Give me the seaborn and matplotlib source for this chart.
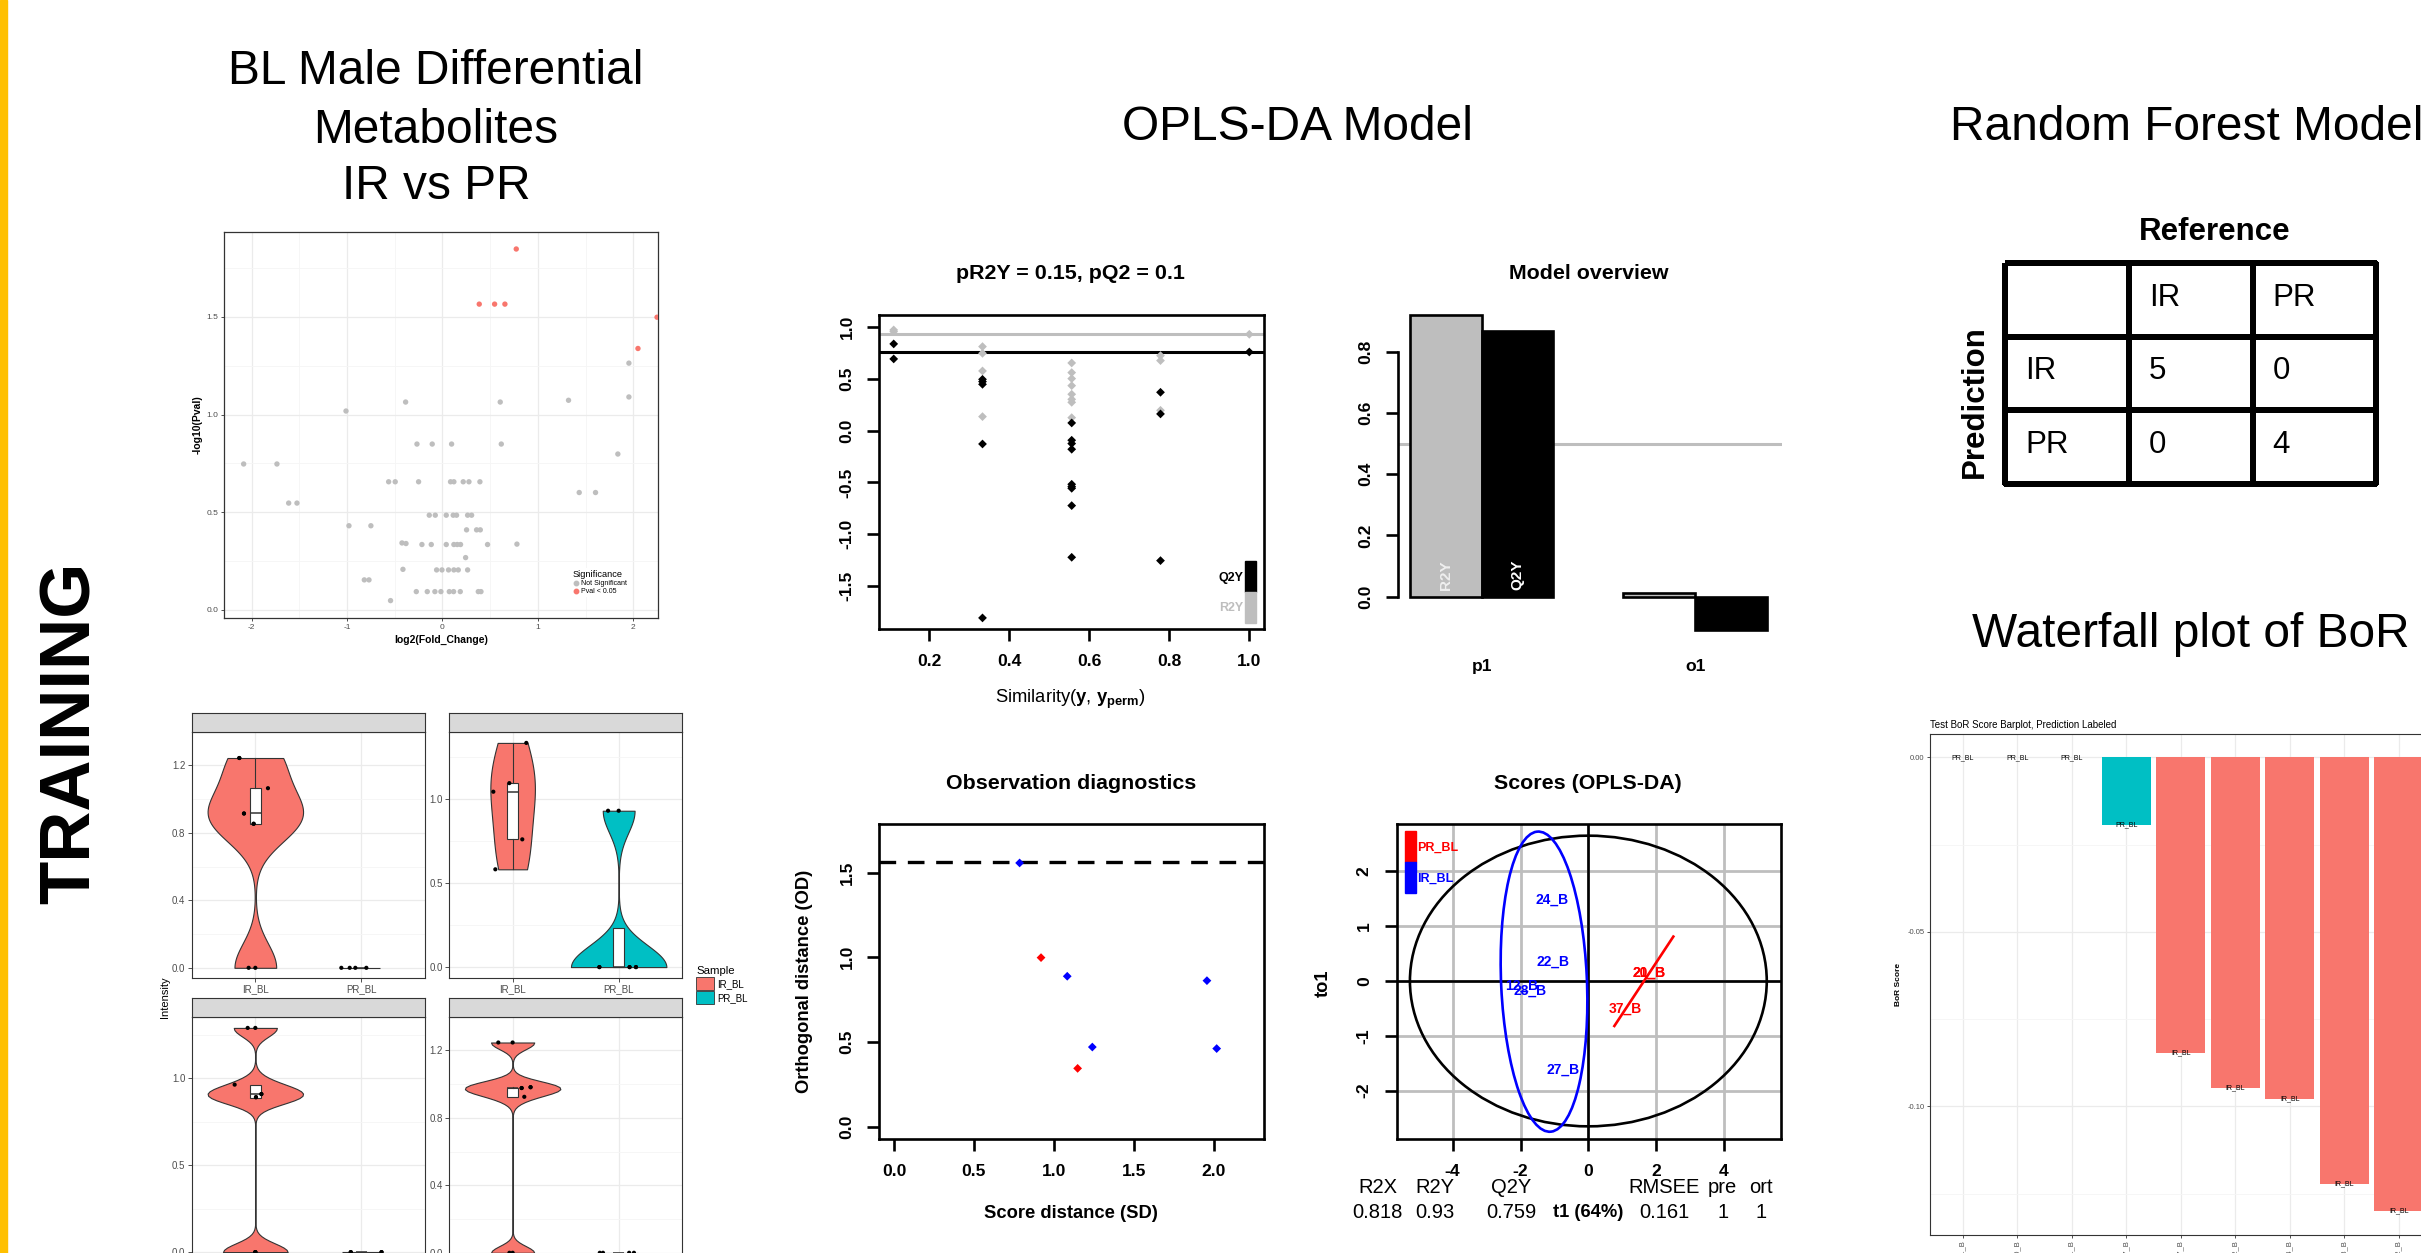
import numpy as np
import pandas as pd
import matplotlib
matplotlib.use("Agg")
import matplotlib.pyplot as plt
import seaborn as sns
from matplotlib.patches import Ellipse, Rectangle, Patch
from matplotlib.lines import Line2D
from matplotlib.colors import ListedColormap

# ======================= DATA =======================
# --- volcano plot ---
sig_fc = [0.774, 0.386, 0.547, 0.655, 2.25, 2.05]
sig_p = [1.847, 1.565, 1.565, 1.565, 1.498, 1.338]
ns_fc = [1.955, 1.955, 1.322, 0.606, -0.386, -1.011,
         -0.267, -0.107, 0.096, 0.617, 1.839,
         -2.084, -1.735,
         -0.564, -0.495, -0.250, 0.085, 0.120, 0.218, 0.278, 0.393,
         1.434, 1.605,
         -1.612, -1.525,
         -0.138, -0.075, 0.040, 0.113, 0.148, 0.264, 0.306,
         -0.980, -0.750,
         0.253, 0.358, 0.397,
         -0.424, -0.382, -0.215, -0.117, 0.040, 0.120, 0.155, 0.190, 0.473, 0.781,
         0.243,
         -0.414, -0.061, -0.005, 0.064, 0.120, 0.166, 0.264,
         -0.819, -0.770,
         -0.274, -0.159, -0.079, -0.016, 0.072, 0.117, 0.187, 0.376, 0.404,
         -0.544]
ns_p = [1.263, 1.090, 1.073, 1.064, 1.064, 1.018,
        0.849, 0.849, 0.849, 0.849, 0.798,
        0.747, 0.747,
        0.656, 0.656, 0.656, 0.656, 0.656, 0.656, 0.656, 0.656,
        0.601, 0.601,
        0.547, 0.547,
        0.485, 0.485, 0.485, 0.485, 0.485, 0.485, 0.485,
        0.431, 0.431,
        0.410, 0.410, 0.410,
        0.343, 0.340, 0.335, 0.335, 0.335, 0.335, 0.335, 0.335, 0.335, 0.337,
        0.268,
        0.208, 0.205, 0.205, 0.205, 0.205, 0.205, 0.205,
        0.154, 0.154,
        0.094, 0.094, 0.094, 0.094, 0.094, 0.094, 0.094, 0.094, 0.094,
        0.048]

# --- violin facets (values incl. overplotted duplicates, jitter offsets) ---
v_order = ["IR_BL", "PR_BL"]
tl_ir_vals = [1.244, 1.244, 1.065, 0.915, 0.915, 0.854, 0.854, 0.0, 0.0]
tl_ir_off = [-0.151, -0.151, 0.119, -0.107, -0.107, -0.016, -0.016, -0.063, 0.0]
tl_ir_box = [0.854, 0.854, 0.915, 1.065, 1.244]   # whislo, q1, med, q3, whishi
tl_pr_vals = [0.0, 0.0, 0.0, 0.0]
tl_pr_off = [-0.189, -0.110, -0.057, 0.047]
tl_pr_box = [0.0, 0.0, 0.0, 0.0, 0.0]

tr_ir_vals = [1.332, 1.093, 1.042, 0.759, 0.581]
tr_ir_off = [0.129, -0.031, -0.182, 0.091, -0.163]
tr_ir_box = [0.581, 0.759, 1.040, 1.093, 1.332]
tr_pr_vals = [0.929, 0.929, 0.0, 0.0, 0.0, 0.0, 0.0, 0.0]
tr_pr_off = [-0.100, 0.0, -0.182, 0.103, 0.163, -0.182, 0.103, 0.163]
tr_pr_box = [0.0, 0.0, 0.0, 0.231, 0.231]

bl_ir_vals = [1.288, 1.288, 0.962, 0.908, 0.908, 0.890, 0.890, 0.0, 0.0, 0.0]
bl_ir_off = [-0.072, 0.0, -0.195, 0.057, 0.057, 0.006, 0.006, 0.0, 0.0, 0.0]
bl_ir_box = [0.890, 0.888, 0.908, 0.958, 0.962]
bl_pr_vals = [0.0, 0.0, 0.0, 0.0]
bl_pr_off = [-0.10, 0.19, -0.10, 0.19]
bl_pr_box = [0.0, 0.0, 0.0, 0.0, 0.0]

br_ir_vals = [1.247, 1.247, 0.982, 0.982, 0.977, 0.977, 0.925, 0.0, 0.0]
br_ir_off = [-0.135, 0.0, 0.169, 0.169, 0.085, 0.085, 0.110, -0.030, 0.0]
br_ir_box = [0.925, 0.925, 0.977, 0.980, 0.982]
br_pr_vals = [0.0, 0.0, 0.0, 0.0]
br_pr_off = [-0.178, -0.148, 0.099, 0.144]
br_pr_box = [0.0, 0.0, 0.0, 0.0, 0.0]

# --- OPLS-DA permutation ---
perm_r2y_sim = [0.111, 0.111, 0.333, 0.333, 0.333, 0.333,
                0.556, 0.556, 0.556, 0.556, 0.556, 0.556, 0.556, 0.556,
                0.778, 0.778, 0.778, 1.0]
perm_r2y = [0.972, 0.956, 0.811, 0.746, 0.576, 0.135,
            0.653, 0.560, 0.502, 0.434, 0.351, 0.302, 0.273, 0.125,
            0.724, 0.676, 0.196, 0.930]
perm_q2y_sim = [0.111, 0.111, 0.333, 0.333, 0.333, 0.333, 0.333,
                0.556, 0.556, 0.556, 0.556, 0.556, 0.556, 0.556, 0.556, 0.556,
                0.778, 0.778, 0.778, 1.0]
perm_q2y = [0.837, 0.692, 0.495, 0.473, 0.447, -0.129, -1.808,
            0.074, -0.093, -0.125, -0.180, -0.518, -0.541, -0.557, -0.724, -1.223,
            0.370, 0.161, -1.255, 0.759]
model_r2y = 0.93
model_q2y = 0.759

# --- model overview ---
ov_comp = ["p1", "o1"]
ov_r2y = [0.919, 0.011]
ov_q2y = [0.869, -0.110]

# --- observation diagnostics ---
obs_sd = [0.786, 1.084, 1.958, 1.241, 2.019, 0.920, 1.149]
obs_od = [1.557, 0.888, 0.862, 0.470, 0.461, 0.998, 0.344]
obs_grp = ["IR_BL"] * 5 + ["PR_BL"] * 2
od_cutoff = 1.565

# --- scores ---
ir_names = ["24_B", "22_B", "12_B", "28_B", "27_B"]
ir_t1 = [-1.06, -1.05, -1.97, -1.72, -0.737]
ir_to1 = [1.477, 0.347, -0.09, -0.176, -1.611]
pr_names = ["20_B", "21_B", "37_B"]
pr_t1 = [1.79, 1.79, 1.10]
pr_to1 = [0.152, 0.152, -0.505]
hot_radius = [5.26, 2.65]
ir_ell = dict(center=(-1.307, -0.012), a=2.743, b=1.264, angle=94.4)
pr_seg_t1 = [0.767, 2.506]
pr_seg_to1 = [-0.82, 0.81]
sum_names = ["R2X", "R2Y", "Q2Y", "RMSEE", "pre", "ort"]
sum_vals = ["0.818", "0.93", "0.759", "0.161", "1", "1"]

# --- random forest confusion ---
cm_labels = ["IR", "PR"]
cm_counts = [[5, 0], [0, 4]]

# --- waterfall ---
bor_samples = ["21_B", "20_B", "31_B", "37_B", "27_B", "22_B", "24_B", "28_B", "12_B"]
bor_scores = [0.0, 0.0, 0.0, -0.0194, -0.0846, -0.0947, -0.0978, -0.1222, -0.1300]
bor_pred = ["PR_BL", "PR_BL", "PR_BL", "PR_BL", "IR_BL", "IR_BL", "IR_BL", "IR_BL", "IR_BL"]

# ======================= FIGURE =======================
plt.rcParams["font.family"] = ["Liberation Sans", "DejaVu Sans"]
plt.rcParams["mathtext.fontset"] = "custom"
plt.rcParams["mathtext.rm"] = "Liberation Sans"
plt.rcParams["mathtext.bf"] = "Liberation Sans:bold"
plt.rcParams["mathtext.it"] = "Liberation Sans:italic"

W, H = 2421, 1253
fig = plt.figure(figsize=(W / 100, H / 100), dpi=100)
fig.patch.set_facecolor("white")


def pax(x0, y0, x1, y1):
    return fig.add_axes([x0 / W, 1 - y1 / H, (x1 - x0) / W, (y1 - y0) / H])


def ftext(x, y, s, **kw):
    return fig.text(x / W, 1 - y / H, s, **kw)


# yellow side bar
fig.patches.append(Rectangle((0, 0), 7 / W, 1, transform=fig.transFigure,
                             color="#FFC000", zorder=0))

# big titles
ftext(436, 84, "BL Male Differential", ha="center", va="baseline", fontsize=34.5)
ftext(436, 142.7, "Metabolites", ha="center", va="baseline", fontsize=34.5)
ftext(436, 199.3, "IR vs PR", ha="center", va="baseline", fontsize=34.5)
ftext(1297, 140, "OPLS-DA Model", ha="center", va="baseline", fontsize=34.5)
ftext(1950, 140, "Random Forest Model", ha="left", va="baseline", fontsize=34.5)
ftext(1972, 647, "Waterfall plot of BoR", ha="left", va="baseline", fontsize=34.5)
ftext(72, 733, "TRAINING", rotation=90, ha="center", va="center",
      fontsize=51, fontweight="bold")

GG_TXT = "#4D4D4D"
GG_LINE = "#333333"

# ---------------- volcano ----------------
axv = pax(224, 232, 658, 618)
vdf = pd.DataFrame({"fc": ns_fc + sig_fc, "p": ns_p + sig_p,
                    "Significance": ["Not Significant"] * len(ns_fc) + ["Pval < 0.05"] * len(sig_fc)})
vpal = {"Not Significant": "#BEBEBE", "Pval < 0.05": "#F8766D"}
sns.scatterplot(data=vdf, x="fc", y="p", hue="Significance", palette=vpal, s=15,
                edgecolor="none", legend=False, ax=axv, zorder=3)
axv.set_xlim(-2.29, 2.26)
axv.set_ylim(-0.041, 1.934)
axv.set_xticks([-2, -1, 0, 1, 2], labels=["-2", "-1", "0", "1", "2"])
axv.set_yticks([0, 0.5, 1.0, 1.5], labels=["0.0", "0.5", "1.0", "1.5"])
axv.set_xticks([-1.5, -0.5, 0.5, 1.5], minor=True)
axv.set_yticks([0.25, 0.75, 1.25, 1.75], minor=True)
axv.set_axisbelow(True)
axv.grid(which="major", color="#EBEBEB", lw=0.9)
axv.grid(which="minor", color="#F5F5F5", lw=0.6)
axv.tick_params(which="major", labelsize=6, labelcolor=GG_TXT, color=GG_LINE,
                length=2.5, width=0.6, pad=1.5)
axv.tick_params(which="minor", length=0)
for s in axv.spines.values():
    s.set_color(GG_LINE)
    s.set_linewidth(0.9)
axv.set_xlabel("log2(Fold_Change)", fontsize=7.5, fontweight="bold", labelpad=3)
axv.set_ylabel("-log10(Pval)", fontsize=7.5, fontweight="bold", labelpad=3)
vh = [Line2D([], [], marker="o", ls="", color=vpal[k], markersize=3.2) for k in vpal]
leg = axv.legend(vh, list(vpal), title="Significance", loc="lower left",
                 bbox_to_anchor=(0.79, 0.045), fontsize=5, title_fontsize=6.7,
                 frameon=True, facecolor="white", edgecolor="none", framealpha=1,
                 handletextpad=0.2, labelspacing=0.15, borderpad=0.3, handlelength=1.0)
leg._legend_box.align = "left"

# ---------------- violins ----------------
v_pal = {"IR_BL": "#F8766D", "PR_BL": "#00BFC4"}


def violin_facet(rect, strip_top, groups, yt, ymin_ymax):
    x0, y0, x1, y1 = rect
    ax = pax(x0, y0, x1, y1)
    sax = pax(x0, strip_top, x1, y0)
    sax.set_facecolor("#D9D9D9")
    sax.set_xticks([])
    sax.set_yticks([])
    for s in sax.spines.values():
        s.set_color(GG_LINE)
        s.set_linewidth(0.8)
    for pos, (name, vals, offs, h, w, box) in enumerate(groups):
        vals = np.asarray(vals, float)
        if np.ptp(vals) == 0:
            ax.hlines(vals[0], pos - w / 2, pos + w / 2, color=GG_LINE, lw=0.8, zorder=2)
        else:
            df = pd.DataFrame({"Sample": [name] * len(vals), "Intensity": vals})
            sns.violinplot(data=df, x="Sample", y="Intensity", order=v_order,
                           color=v_pal[name], saturation=1, inner=None, cut=0,
                           bw_method=h / np.std(vals, ddof=1), density_norm="width",
                           width=w, linewidth=0.8, linecolor=GG_LINE, ax=ax)
        ax.bxp([dict(whislo=box[0], q1=box[1], med=box[2], q3=box[3], whishi=box[4])],
               positions=[pos], widths=0.1, showfliers=False, showcaps=False,
               patch_artist=True,
               boxprops=dict(facecolor="white", edgecolor=GG_LINE, linewidth=0.8),
               medianprops=dict(color=GG_LINE, linewidth=1.1),
               whiskerprops=dict(color=GG_LINE, linewidth=0.8),
               manage_ticks=False, zorder=3)
        ax.scatter(pos + np.asarray(offs), vals, color="black", s=9, edgecolor="none", zorder=4)
    ax.set_xlim(-0.6, 1.6)
    ax.set_ylim(*ymin_ymax)
    ax.set_xticks([0, 1], labels=v_order)
    ax.set_yticks(yt, labels=[f"{t:.1f}" for t in yt])
    mids = [(a + b) / 2 for a, b in zip(yt[:-1], yt[1:])] + [yt[-1] + (yt[1] - yt[0]) / 2]
    ax.set_yticks(mids, minor=True)
    ax.set_xlabel("")
    ax.set_ylabel("")
    ax.set_axisbelow(True)
    ax.grid(which="major", color="#EBEBEB", lw=0.9)
    ax.yaxis.grid(True, which="minor", color="#F5F5F5", lw=0.6)
    ax.tick_params(which="major", labelsize=7, labelcolor=GG_TXT, color=GG_LINE,
                   length=3, width=0.6, pad=1.5)
    ax.tick_params(which="minor", length=0)
    for s in ax.spines.values():
        s.set_color(GG_LINE)
        s.set_linewidth(0.8)
    return ax


def lims(*arrs):
    m = max(max(a) for a in arrs)
    return (-0.05 * m, 1.05 * m)


violin_facet((191.7, 731.7, 425, 978.3), 713.3,
             [("IR_BL", tl_ir_vals, tl_ir_off, 0.145, 0.9, tl_ir_box),
              ("PR_BL", tl_pr_vals, tl_pr_off, None, 0.36, tl_pr_box)],
             [0, 0.4, 0.8, 1.2], lims(tl_ir_vals, tl_pr_vals))
violin_facet((449, 731.7, 682.3, 978.3), 713.3,
             [("IR_BL", tr_ir_vals, tr_ir_off, 0.2, 0.42, tr_ir_box),
              ("PR_BL", tr_pr_vals, tr_pr_off, 0.13, 0.9, tr_pr_box)],
             [0, 0.5, 1.0], lims(tr_ir_vals, tr_pr_vals))
violin_facet((191.7, 1016.7, 425, 1263.3), 998.3,
             [("IR_BL", bl_ir_vals, bl_ir_off, 0.05, 0.9, bl_ir_box),
              ("PR_BL", bl_pr_vals, bl_pr_off, None, 0.36, bl_pr_box)],
             [0, 0.5, 1.0], lims(bl_ir_vals, bl_pr_vals))
violin_facet((449, 1016.7, 682.3, 1263.3), 998.3,
             [("IR_BL", br_ir_vals, br_ir_off, 0.04, 0.9, br_ir_box),
              ("PR_BL", br_pr_vals, br_pr_off, None, 0.36, br_pr_box)],
             [0, 0.4, 0.8, 1.2], lims(br_ir_vals, br_pr_vals))
ftext(165, 996.7, "Intensity", rotation=90, ha="center", va="center", fontsize=8)
sleg = fig.legend(handles=[Patch(facecolor=v_pal[k], edgecolor=GG_LINE, lw=0.6) for k in v_order],
                  labels=v_order, title="Sample", loc="upper left",
                  bbox_to_anchor=(696 / W, 1 - 966 / H), frameon=False, fontsize=7,
                  title_fontsize=8.2, handlelength=1.8, handleheight=1.7,
                  handletextpad=0.4, labelspacing=0.1, borderaxespad=0, borderpad=0)
sleg._legend_box.align = "left"


# ---------------- R-style helpers ----------------
def rstyle(ax, xt, xl, yt, yl, box=True):
    ax.set_xticks(xt, labels=xl, fontsize=12.6, fontweight="bold")
    ax.set_yticks(yt, labels=yl, fontsize=12.6, fontweight="bold", rotation=90, va="center")
    ax.tick_params(direction="out", length=8.4, width=1.9, pad=9.5, color="black")
    for s in ax.spines.values():
        s.set_linewidth(1.9)
        s.set_color("black")
        s.set_visible(box)
    ax.set_xlabel("")
    ax.set_ylabel("")
    ax.set_facecolor("none")


RT = dict(ha="center", va="center", fontsize=15.4, fontweight="bold")
RL = dict(ha="center", va="center", fontsize=13.2, fontweight="bold")

# ---------------- permutation plot ----------------
axp = pax(879.3, 315, 1264.3, 629.3)
pdf = pd.DataFrame({"sim": perm_r2y_sim + perm_q2y_sim, "val": perm_r2y + perm_q2y,
                    "metric": ["R2Y"] * len(perm_r2y) + ["Q2Y"] * len(perm_q2y)})
axp.axhline(model_r2y, color="#BEBEBE", lw=2.2, zorder=2)
axp.axhline(model_q2y, color="black", lw=2.2, zorder=2)
sns.scatterplot(data=pdf, x="sim", y="val", hue="metric",
                palette={"R2Y": "#BEBEBE", "Q2Y": "black"}, marker="D", s=20,
                edgecolor="none", legend=False, ax=axp, zorder=3)
axp.set_xlim(0.075, 1.0375)
axp.set_ylim(-1.918, 1.116)
rstyle(axp, [0.2, 0.4, 0.6, 0.8, 1.0], ["0.2", "0.4", "0.6", "0.8", "1.0"],
       [-1.5, -1.0, -0.5, 0.0, 0.5, 1.0], ["-1.5", "-1.0", "-0.5", "0.0", "0.5", "1.0"])
axp.add_patch(Rectangle((0.949, 0.12), 0.029, 0.0975, transform=axp.transAxes, color="black", zorder=4))
axp.add_patch(Rectangle((0.949, 0.0214), 0.029, 0.0986, transform=axp.transAxes, color="#BEBEBE", zorder=4))
axp.text(0.945, 0.1645, "Q2Y", transform=axp.transAxes, ha="right", va="center",
         fontsize=9, fontweight="bold", color="black")
axp.text(0.945, 0.067, "R2Y", transform=axp.transAxes, ha="right", va="center",
         fontsize=9, fontweight="bold", color="#BEBEBE")
ftext(1070, 273.3, "pR2Y = 0.15, pQ2 = 0.1", **RT)
ftext(1070, 699, r"Similarity($\mathbf{y}$, $\mathbf{y}_{\mathbf{perm}}$)",
      ha="center", va="center", fontsize=13.2)

# ---------------- model overview ----------------
axm = pax(1397.7, 302.7, 1781.7, 642.7)
mdf = pd.DataFrame({"comp": ov_comp + ov_comp, "metric": ["R2Y"] * 2 + ["Q2Y"] * 2,
                    "val": ov_r2y + ov_q2y})
axm.axhline(0.5, color="#BEBEBE", lw=2.2, zorder=1)
bar_w = 0.672
sns.barplot(data=mdf, x="comp", y="val", hue="metric", order=ov_comp,
            hue_order=["R2Y", "Q2Y"], palette={"R2Y": "#BEBEBE", "Q2Y": "black"},
            saturation=1, width=bar_w, edgecolor="black", linewidth=1.9,
            errorbar=None, legend=False, ax=axm, zorder=3)
axm.set_xlim(-0.394, 1.406)
axm.set_ylim(-0.15, 0.96)
rstyle(axm, [0, 1], ov_comp, [0, 0.2, 0.4, 0.6, 0.8], ["0.0", "0.2", "0.4", "0.6", "0.8"], box=False)
axm.spines["left"].set_visible(True)
axm.spines["left"].set_bounds(0, 0.8)
axm.tick_params(axis="x", length=0, pad=12)
axm.text(-bar_w / 4, 0.022, "R2Y", rotation=90, ha="center", va="bottom",
         color="#EFEFEF", fontsize=11, fontweight="bold", zorder=5)
axm.text(bar_w / 4, 0.022, "Q2Y", rotation=90, ha="center", va="bottom",
         color="white", fontsize=11, fontweight="bold", zorder=5)
ftext(1588.3, 273.3, "Model overview", **RT)

# ---------------- observation diagnostics ----------------
axo = pax(879.3, 824, 1264, 1139)
odf = pd.DataFrame({"sd": obs_sd, "od": obs_od, "grp": obs_grp})
sns.scatterplot(data=odf, x="sd", y="od", hue="grp", palette={"IR_BL": "blue", "PR_BL": "red"},
                marker="D", s=20, edgecolor="none", legend=False, ax=axo, zorder=3)
axo.axhline(od_cutoff, color="black", lw=2.4, ls=(0, (5, 3.5)), zorder=2)
axo.set_xlim(-0.0918, 2.315)
axo.set_ylim(-0.073, 1.787)
rstyle(axo, [0, 0.5, 1.0, 1.5, 2.0], ["0.0", "0.5", "1.0", "1.5", "2.0"],
       [0, 0.5, 1.0, 1.5], ["0.0", "0.5", "1.0", "1.5"])
ftext(1071, 783.3, "Observation diagnostics", **RT)
ftext(1071, 1213.3, "Score distance (SD)", **RL)
ftext(805, 981.7, "Orthogonal distance (OD)", rotation=90, **RL)

# ---------------- scores ----------------
axs = pax(1396.7, 824, 1781, 1139)
axs.set_xlim(-5.65, 5.68)
axs.set_ylim(-2.881, 2.863)
axs.set_axisbelow(True)
axs.grid(True, color="#BEBEBE", lw=2)
axs.axhline(0, color="black", lw=1.9, zorder=2)
axs.axvline(0, color="black", lw=1.9, zorder=2)
axs.add_patch(Ellipse((0, 0), 2 * hot_radius[0], 2 * hot_radius[1], fill=False,
                      ec="black", lw=1.9, zorder=3))
axs.add_patch(Ellipse(ir_ell["center"], 2 * ir_ell["a"], 2 * ir_ell["b"], angle=ir_ell["angle"],
                      fill=False, ec="blue", lw=1.9, zorder=3))
sns.lineplot(x=pr_seg_t1, y=pr_seg_to1, color="red", lw=1.9, ax=axs, zorder=3)
for n, x, y in zip(ir_names, ir_t1, ir_to1):
    axs.text(x, y, n, color="blue", ha="center", va="center", fontsize=10, fontweight="bold", zorder=4)
for n, x, y in zip(pr_names, pr_t1, pr_to1):
    axs.text(x, y, n, color="red", ha="center", va="center", fontsize=10, fontweight="bold", zorder=4)
rstyle(axs, [-4, -2, 0, 2, 4], ["-4", "-2", "0", "2", "4"],
       [-2, -1, 0, 1, 2], ["-2", "-1", "0", "1", "2"])
axs.add_patch(Rectangle((0.0216, 0.880), 0.0278, 0.098, transform=axs.transAxes, color="red", zorder=5))
axs.add_patch(Rectangle((0.0216, 0.780), 0.0278, 0.100, transform=axs.transAxes, color="blue", zorder=5))
axs.text(0.052, 0.925, "PR_BL", transform=axs.transAxes, color="red", fontsize=9,
         fontweight="bold", ha="left", va="center", zorder=5)
axs.text(0.052, 0.825, "IR_BL", transform=axs.transAxes, color="blue", fontsize=9,
         fontweight="bold", ha="left", va="center", zorder=5)
ftext(1588.3, 783.3, "Scores (OPLS-DA)", **RT)
ftext(1323.3, 983.3, "to1", rotation=90, **RL)
name_x = [1378.3, 1435, 1510.7, 1664.3, 1722.7, 1761]
val_x = [1377.3, 1435, 1511.7, 1664.3, 1722.7, 1761]
for nx, vx, n, v in zip(name_x, val_x, sum_names, sum_vals):
    ftext(nx, 1187.7, n, ha="center", va="center", fontsize=14.5)
    ftext(vx, 1212.7, v, ha="center", va="center", fontsize=14.5)
ftext(1587.7, 1212.7, "t1 (64%)", **RL)

# ---------------- confusion table ----------------
axc = pax(2005.3, 263, 2376.2, 484)
sns.heatmap(np.zeros((3, 3)), cmap=ListedColormap(["white"]), cbar=False, linewidths=3,
            linecolor="black", ax=axc, xticklabels=False, yticklabels=False)
axc.collections[0].set_clip_on(False)
TT = dict(ha="left", va="center", fontsize=22.5)
for j, lab in enumerate(cm_labels):
    axc.text(j + 1 + 0.162, 0.47, lab, **TT)
    axc.text(0.162, j + 1 + 0.47, lab, **TT)
for i in range(2):
    for j in range(2):
        axc.text(j + 1 + 0.162, i + 1 + 0.47, str(cm_counts[i][j]), **TT)
ftext(2215, 231.6, "Reference", ha="center", va="center", fontsize=22.5, fontweight="bold")
ftext(1975, 402, "Prediction", rotation=90, ha="center", va="center", fontsize=22.5, fontweight="bold")

# ---------------- waterfall ----------------
axw = pax(1930, 734, 1930 + 9.2 * 54.5, 1234.5)
wdf = pd.DataFrame({"sample": bor_samples, "bor": bor_scores, "pred": bor_pred})
sns.barplot(data=wdf, x="sample", y="bor", hue="pred", order=bor_samples,
            palette=v_pal, dodge=False, width=0.9, saturation=1, errorbar=None,
            legend=False, ax=axw, zorder=3)
for i, (v, p) in enumerate(zip(bor_scores, bor_pred)):
    axw.text(i, v, p, ha="center", va="center", fontsize=5, zorder=4)
axw.set_xlim(-0.6, 8.6)
axw.set_ylim(-0.1367, 0.00668)
axw.set_yticks([0, -0.05, -0.10], labels=["0.00", "-0.05", "-0.10"])
axw.set_yticks([-0.025, -0.075, -0.125], minor=True)
axw.set_xticks(range(len(bor_samples)), labels=bor_samples, rotation=90)
axw.set_axisbelow(True)
axw.grid(which="major", color="#EBEBEB", lw=0.9)
axw.yaxis.grid(True, which="minor", color="#F5F5F5", lw=0.6)
axw.tick_params(which="major", labelsize=5.5, labelcolor=GG_TXT, color=GG_LINE,
                length=2.5, width=0.6, pad=1.5)
axw.tick_params(which="minor", length=0)
for s in axw.spines.values():
    s.set_color(GG_LINE)
    s.set_linewidth(0.8)
axw.set_xlabel("")
axw.set_ylabel("BoR Score", fontsize=6, fontweight="bold", labelpad=4)
ftext(1930, 728.3, "Test BoR Score Barplot, Prediction Labeled", ha="left", va="baseline", fontsize=7)

fig.savefig("out.png", dpi=100, facecolor="white")
